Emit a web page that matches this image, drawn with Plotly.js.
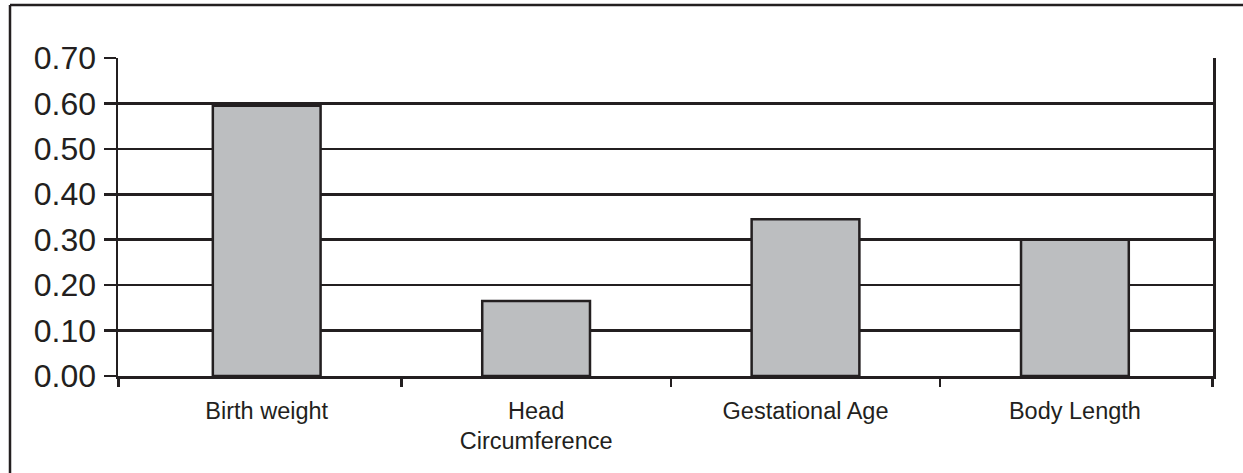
<!DOCTYPE html>
<html>
<head>
<meta charset="utf-8">
<script src="https://cdn.plot.ly/plotly-3.0.1.min.js"></script>
<style>
html,body{margin:0;padding:0;background:#fff;}
#chart{width:1243px;height:473px;}
</style>
</head>
<body>
<div id="chart"></div>
<script>
var categories = ["Birth weight", "Head<br>Circumference", "Gestational Age", "Body Length"];
var values = [0.595, 0.165, 0.345, 0.30];
var yTickVals = [0, 0.1, 0.2, 0.3, 0.4, 0.5, 0.6, 0.7];
var yTickText = ["0.00", "0.10", "0.20", "0.30", "0.40", "0.50", "0.60", "0.70"];

var ink = "#231f20";
var ml = 118, mr = 30, mt = 58, mb = 97;
var W = 1243, H = 473;
var pw = W - ml - mr, ph = H - mt - mb;
var xr = [-0.552, 3.5126];
var sepTicks = [xr[0] + 0.001, 0.5, 1.5, 2.5, xr[1] - 0.001];

var trace = {
  type: "bar",
  x: categories,
  y: values,
  marker: {color: "#bcbec0", line: {color: ink, width: 2.5}},
  hoverinfo: "none"
};
var tickTrace = {type: "scatter", x: [], y: [], xaxis: "x2", yaxis: "y", showlegend: false, hoverinfo: "none"};

var layout = {
  width: W, height: H,
  margin: {l: ml, r: mr, t: mt, b: mb, pad: 0},
  paper_bgcolor: "#fff",
  plot_bgcolor: "#fff",
  bargap: 0.6,
  showlegend: false,
  font: {family: "Liberation Sans, Arial, sans-serif", color: ink},
  xaxis: {
    type: "category",
    range: xr,
    showline: true, linecolor: ink, linewidth: 2.5,
    ticks: "", showgrid: false,
    tickfont: {size: 23.5, color: ink},
    ticklabelstandoff: 12,
    fixedrange: true
  },
  xaxis2: {
    overlaying: "x", anchor: "y", side: "bottom",
    range: xr, tickvals: sepTicks,
    showticklabels: false, showline: false, showgrid: false, zeroline: false,
    ticks: "outside", ticklen: 10, tickwidth: 2.5, tickcolor: ink,
    fixedrange: true
  },
  yaxis: {
    range: [0, 0.7],
    tickvals: yTickVals,
    ticktext: yTickText,
    showline: true, linecolor: ink, linewidth: 2.5, mirror: true,
    ticks: "outside", ticklen: 12, tickwidth: 2.5, tickcolor: ink,
    showgrid: true, gridcolor: ink, gridwidth: 2.5,
    zeroline: false,
    tickfont: {size: 32, color: ink},
    ticklabelstandoff: 1,
    fixedrange: true
  },
  shapes: [
    {type: "line", xref: "paper", yref: "paper", layer: "below",
     x0: (10 - ml) / pw, x1: (10 - ml) / pw, y0: 1 + (mt - 5) / ph, y1: -(mb + 20) / ph,
     line: {color: ink, width: 2.5}},
    {type: "line", xref: "paper", yref: "paper", layer: "below",
     x0: (10 - ml) / pw, x1: (W + 20 - ml) / pw, y0: 1 + (mt - 5) / ph, y1: 1 + (mt - 5) / ph,
     line: {color: ink, width: 2.5}}
  ]
};

Plotly.newPlot("chart", [trace, tickTrace], layout, {displayModeBar: false, staticPlot: true});
</script>
</body>
</html>
